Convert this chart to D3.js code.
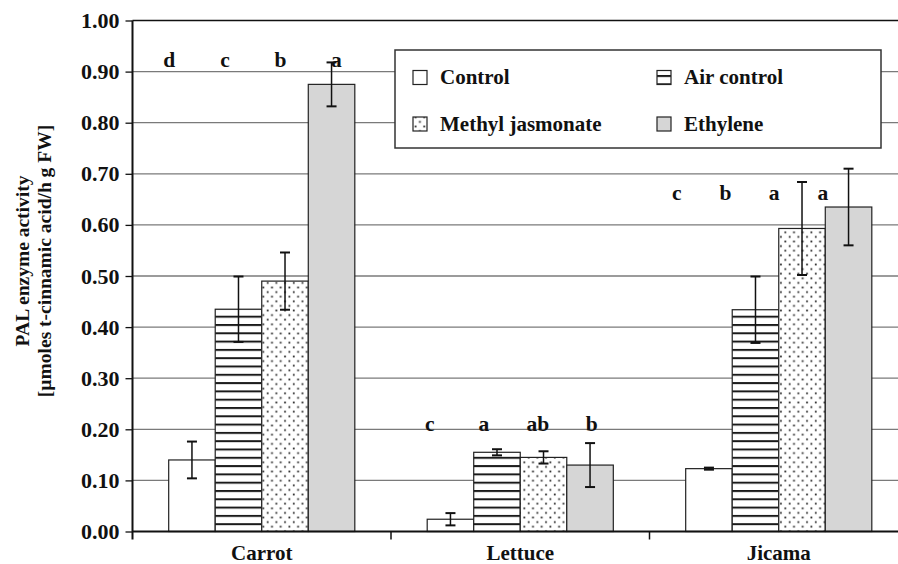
<!DOCTYPE html>
<html>
<head>
<meta charset="utf-8">
<script src="https://cdn.jsdelivr.net/npm/d3@7/dist/d3.min.js"></script>
<style>
  html, body { margin: 0; padding: 0; background: #fff; }
  svg { display: block; }
  text { font-family: "Liberation Serif", "DejaVu Serif", serif; font-weight: bold; fill: #111; }
</style>
</head>
<body>
<svg id="chart" width="898" height="564"></svg>
<script>
// PAL enzyme activity by vegetable and treatment
const categories = ["Carrot", "Lettuce", "Jicama"];
const treatments = ["Control", "Air control", "Methyl jasmonate", "Ethylene"];

// mean activity per treatment (order follows categories)
const controlValues   = [0.140, 0.024, 0.123];
const airValues       = [0.435, 0.155, 0.434];
const mejaValues      = [0.490, 0.145, 0.593];
const ethyleneValues  = [0.875, 0.130, 0.635];

// error bar half-widths
const controlErr   = [0.036, 0.012, 0.002];
const airErr       = [0.064, 0.006, 0.065];
const mejaErr      = [0.056, 0.012, 0.091];
const ethyleneErr  = [0.043, 0.043, 0.075];

// significance letters per category and the level they sit at
const carrotLetters  = ["d", "c", "b", "a"];
const lettuceLetters = ["c", "a", "ab", "b"];
const jicamaLetters  = ["c", "b", "a", "a"];
const letterLevels   = [0.924, 0.212, 0.663];

const yTicks = [0, 0.1, 0.2, 0.3, 0.4, 0.5, 0.6, 0.7, 0.8, 0.9, 1.0];

const values = [controlValues, airValues, mejaValues, ethyleneValues];
const errors = [controlErr, airErr, mejaErr, ethyleneErr];
const letters = [carrotLetters, lettuceLetters, jicamaLetters];

const rows = [];
categories.forEach((c, ci) => {
  treatments.forEach((t, ti) => {
    rows.push({ cat: c, ci, treat: t, ti, value: values[ti][ci], err: errors[ti][ci] });
  });
});

const svg = d3.select("#chart");
const plotLeft = 132.5, plotRight = 908, plotTop = 20.5, plotBottom = 531.5;
const fontSize = 21;

const x0 = d3.scaleBand().domain(categories).range([plotLeft, plotRight]).paddingInner(0).paddingOuter(0);
const groupFrac = 0.72;
const x1 = d3.scaleBand().domain(treatments)
  .range([0, x0.bandwidth() * groupFrac]).padding(0);
const groupOffset = x0.bandwidth() * (1 - groupFrac) / 2;
const y = d3.scaleLinear().domain([0, 1]).range([plotBottom, plotTop]);

// fill patterns
const defs = svg.append("defs");
const hp = defs.append("pattern").attr("id", "hlines")
  .attr("patternUnits", "userSpaceOnUse").attr("width", 8).attr("height", 8.3)
  .attr("y", plotBottom);
hp.append("rect").attr("width", 8).attr("height", 8.3).attr("fill", "#fff");
hp.append("rect").attr("y", 0).attr("width", 8).attr("height", 2).attr("fill", "#1a1a1a");

const dp = defs.append("pattern").attr("id", "dots")
  .attr("patternUnits", "userSpaceOnUse").attr("width", 8.7).attr("height", 9.2);
dp.append("rect").attr("width", 8.7).attr("height", 9.2).attr("fill", "#fff");
dp.append("rect").attr("x", 1.4).attr("y", 1.4).attr("width", 1.8).attr("height", 1.8).attr("fill", "#333");
dp.append("rect").attr("x", 5.75).attr("y", 6.0).attr("width", 1.8).attr("height", 1.8).attr("fill", "#333");

const fills = { "Control": "#fff", "Air control": "url(#hlines)", "Methyl jasmonate": "url(#dots)", "Ethylene": "#d6d6d6" };

// gridlines
svg.append("g").selectAll("line").data(yTicks.filter(d => d > 0 && d < 1)).join("line")
  .attr("x1", plotLeft).attr("x2", 898)
  .attr("y1", d => y(d)).attr("y2", d => y(d))
  .attr("stroke", "#7a7a7a").attr("stroke-width", 1.3);
svg.append("line").attr("x1", plotLeft).attr("x2", 898)
  .attr("y1", y(1)).attr("y2", y(1)).attr("stroke", "#111").attr("stroke-width", 1.6);

// bars
const barX = d => x0(d.cat) + groupOffset + x1(d.treat);
svg.append("g").selectAll("rect").data(rows).join("rect")
  .attr("x", barX)
  .attr("y", d => y(d.value))
  .attr("width", x1.bandwidth())
  .attr("height", d => y(0) - y(d.value))
  .attr("fill", d => fills[d.treat])
  .attr("stroke", "#222").attr("stroke-width", 1.2);

// error bars
const eb = svg.append("g").attr("stroke", "#111");
const cap = 5;
rows.forEach(d => {
  const cx = barX(d) + x1.bandwidth() / 2;
  const y1 = y(d.value + d.err), y2 = y(d.value - d.err);
  eb.append("line").attr("x1", cx).attr("x2", cx).attr("y1", y1).attr("y2", y2).attr("stroke-width", 1.5);
  eb.append("line").attr("x1", cx - cap).attr("x2", cx + cap).attr("y1", y1).attr("y2", y1).attr("stroke-width", 2);
  eb.append("line").attr("x1", cx - cap).attr("x2", cx + cap).attr("y1", y2).attr("y2", y2).attr("stroke-width", 2);
});

// significance letters
const letterStep = [55.7, 54, 48.7];
const letterShift = [-9, -9.5, -29];
categories.forEach((c, ci) => {
  const cx = x0(c) + x0.bandwidth() / 2 + letterShift[ci];
  svg.append("g").selectAll("text").data(letters[ci]).join("text")
    .attr("x", (d, i) => cx + (i - 1.5) * letterStep[ci])
    .attr("y", y(letterLevels[ci]))
    .attr("dy", "0.35em")
    .attr("text-anchor", "middle")
    .attr("font-size", 21.5)
    .text(d => d);
});

// y axis
const yAxis = svg.append("g").attr("transform", `translate(${plotLeft},0)`)
  .call(d3.axisLeft(y).tickValues(yTicks).tickFormat(d3.format(".2f")).tickSize(7).tickPadding(6));
yAxis.attr("font-family", null);
yAxis.select(".domain").attr("stroke", "#111").attr("stroke-width", 2).attr("d", `M0,${plotTop}V${plotBottom + 8}`);
yAxis.selectAll(".tick line").attr("stroke", "#111").attr("stroke-width", 1.3);
yAxis.selectAll(".tick text").attr("font-size", 22).attr("fill", "#111");

// x axis
svg.append("line").attr("x1", plotLeft).attr("x2", 898).attr("y1", plotBottom).attr("y2", plotBottom)
  .attr("stroke", "#111").attr("stroke-width", 2.2);
svg.append("g").selectAll("line").data(categories.slice(1)).join("line")
  .attr("x1", d => x0(d)).attr("x2", d => x0(d))
  .attr("y1", plotBottom).attr("y2", plotBottom + 8)
  .attr("stroke", "#111").attr("stroke-width", 1.5);
svg.append("g").selectAll("text").data(categories).join("text")
  .attr("x", d => x0(d) + x0.bandwidth() / 2)
  .attr("y", 560)
  .attr("text-anchor", "middle").attr("font-size", fontSize)
  .text(d => d);

// y title
const yt = svg.append("text").attr("transform", "translate(29,261) rotate(-90)")
  .attr("text-anchor", "middle").attr("font-size", 19.5);
yt.append("tspan").attr("x", 0).attr("y", 0).text("PAL enzyme activity");
yt.append("tspan").attr("x", 0).attr("y", 22).text("[µmoles t-cinnamic acid/h g FW]");

// legend
const lg = svg.append("g");
lg.append("rect").attr("x", 395).attr("y", 50).attr("width", 486).attr("height", 98)
  .attr("fill", "#fff").attr("stroke", "#333").attr("stroke-width", 1.5);
const legPos = [[413, 70.5], [657, 70.5], [413, 117], [657, 117]];
treatments.forEach((t, i) => {
  const [lx, ly] = legPos[i];
  lg.append("rect").attr("x", lx).attr("y", ly).attr("width", 14).attr("height", 14)
    .attr("fill", fills[t]).attr("stroke", "#222").attr("stroke-width", 1.2);
  lg.append("text").attr("x", lx + 27).attr("y", ly + 13.5)
    .attr("font-size", fontSize).text(t);
});
</script>
</body>
</html>
